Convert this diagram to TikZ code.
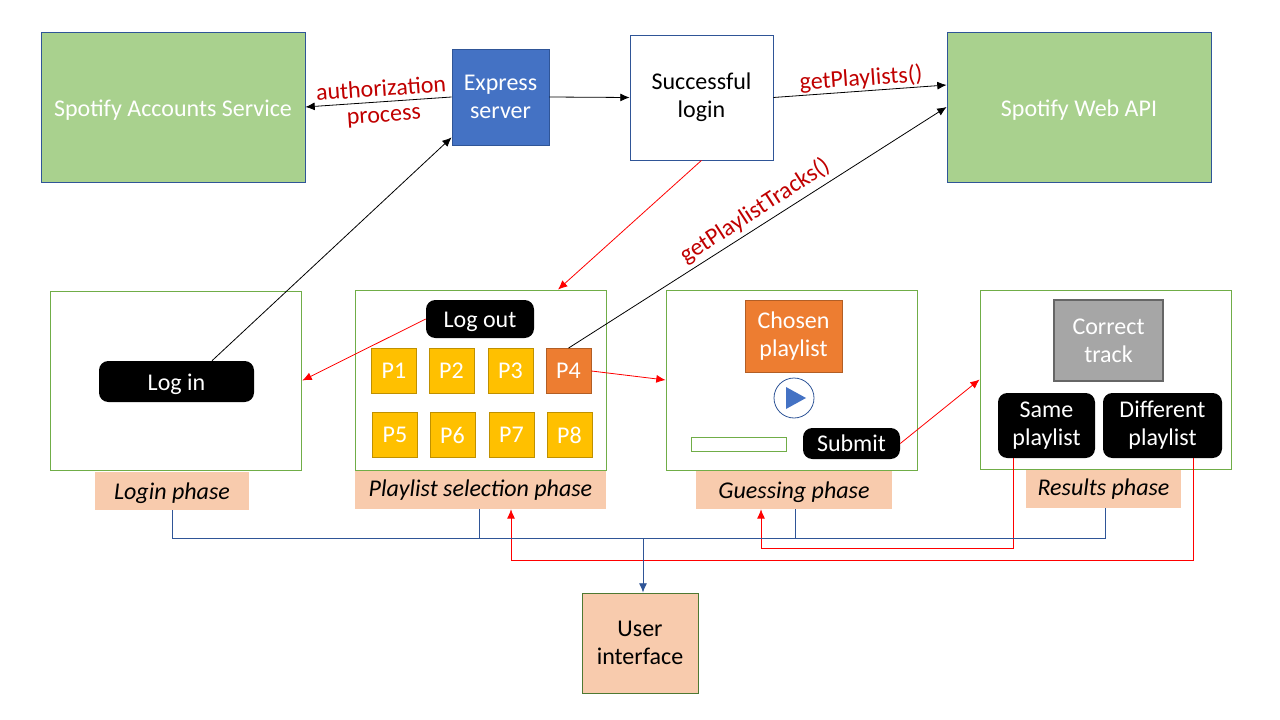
\documentclass[tikz,border=0pt]{standalone}
\usepackage{fontspec}
\setmainfont{Carlito}
\usetikzlibrary{arrows.meta}
\definecolor{leaf}{HTML}{A9D18E}
\definecolor{navy}{HTML}{2F5597}
\definecolor{azure}{HTML}{4472C4}
\definecolor{tangerine}{HTML}{ED7D31}
\definecolor{amber}{HTML}{FFC000}
\definecolor{peach}{HTML}{F8CBAD}
\definecolor{frameline}{HTML}{70AD47}
\definecolor{crimson}{HTML}{C00000}
\def\px{0.75pt}
\tikzset{
	size/.style 2 args={minimum width=#1*\px,minimum height=#2*\px,inner sep=0pt,align=center},
	lower/.style={execute at begin node={\rule{0pt}{16.5pt}}},
	service/.style={draw=navy,fill=leaf,text=white,line width=0.6pt,lower},
	frame/.style={draw=frameline,line width=0.6pt},
	button/.style={fill=black,text=white,rounded corners=7pt},
	playbox/.style={draw=amber!75!black,fill=amber,text=white,line width=0.6pt,size={45}{45}},
	phase/.style={fill=peach,font=\fontsize{18}{21}\selectfont\itshape},
	tag/.style={text=crimson},
	blackarrow/.style={line width=0.6pt,-{Latex[length=7pt,width=6pt]}},
	redarrow/.style={red,line width=0.6pt,-{Latex[length=7pt,width=6pt]}},
	blueline/.style={navy,line width=0.7pt},
}

\begin{document}
\begin{tikzpicture}[x=0.75pt,y=-0.75pt,font=\fontsize{18}{21}\selectfont]
	\useasboundingbox (0,0) rectangle (1280,720);
	% top row
	\node[service,size={264}{150}] (accounts) at (173,107) {Spotify Accounts Service};
	\node[draw=navy,fill=azure,text=white,size={97}{96},line width=0.6pt] (express) at (500.5,97) {Express\\server};
	\node[draw=navy,size={143}{125},line width=0.6pt] (success) at (701.5,97.5) {Successful\\login};
	\node[service,size={264}{150}] (webapi) at (1079,107) {Spotify Web API};
	% phase frames
	\node[frame,size={251}{179}] (loginframe) at (175.5,380.5) {};
	\node[frame,size={251}{180}] (playlistframe) at (480.5,380) {};
	\node[frame,size={251}{180}] (guessframe) at (791.5,380) {};
	\node[frame,size={251}{179}] (resultsframe) at (1105.5,379.5) {};
	% phase names
	\node[phase,lower,size={154}{38}] (loginphase) at (172,491) {Login phase};
	\node[phase,size={251}{38}] (playlistphase) at (480.5,490) {Playlist selection phase};
	\node[phase,lower,size={196}{38}] (guessphase) at (794,490) {Guessing phase};
	\node[phase,size={155}{38}] (resultsphase) at (1103.5,489) {Results phase};
	\node[draw=frameline!70!black,fill=peach,size={116}{100},line width=0.6pt] (ui) at (640,643) {User\\interface};
	% buttons
	\node[button,lower,size={155}{41}] (login) at (176.5,381.5) {Log in};
	\node[button,lower,size={108}{38}] (logout) at (480,319) {Log out};
	\node[button,size={97}{31}] (submit) at (851.5,443.5) {Submit};
	\node[button,size={97}{65}] (same) at (1046.5,425.5) {Same\\playlist};
	\node[button,size={119}{65}] (different) at (1162.5,425.5) {Different\\playlist};
	% playlists
	\node[playbox] (pa) at (394,371) {P1};
	\node[playbox] (pb) at (451.5,371) {P2};
	\node[playbox] (pc) at (510.5,371) {P3};
	\node[playbox,draw=tangerine!75!black,fill=tangerine] (pd) at (568.5,371) {P4};
	\node[playbox] (pe) at (395,435) {P5};
	\node[playbox] (pf) at (452.5,435) {P6};
	\node[playbox] (pg) at (511.5,435) {P7};
	\node[playbox] (ph) at (569.5,435) {P8};
	% guessing phase
	\node[draw=tangerine!75!black,fill=tangerine,text=white,size={97}{72},line width=0.6pt] (chosen) at (793.5,336) {Chosen\\playlist};
	\node[circle,draw=navy,line width=0.6pt,minimum size=40*\px,inner sep=0pt] (play) at (794,398) {};
	\fill[azure] (786,387) -- (806,398) -- (786,409) -- cycle;
	\node[frame,size={95}{14}] (answer) at (738.5,444) {};
	\node[draw=gray!80!black,fill=gray!70,text=white,size={109}{81},line width=1.3pt] (correct) at (1108.5,340.5) {Correct\\track};
	% top connectors
	\draw[blackarrow] (express.west) -- (accounts.east);
	\draw[blackarrow] (express.east) -- (success.west);
	\draw[blackarrow] (success.east) -- ([yshift=22*\px]webapi.west);
	\draw[blackarrow] ([xshift=35.5*\px]login.north) -- ([yshift=8*\px]express.south west);
	\draw[blackarrow] (pd.north) -- (webapi.west);
	\node[tag,rotate=4] (authtag) at (381,88) {authorization};
	\node[tag,rotate=4] (proctag) at (384,118) {process};
	\node[tag,rotate=4] (getlists) at (861,79) {getPlaylists()};
	\node[tag,rotate=33] (gettracks) at (755,211) {getPlaylistTracks()};
	% red connectors
	\draw[redarrow] (success.south) -- ([xshift=77.5*\px]playlistframe.north);
	\draw[redarrow] (logout.west) -- ([xshift=1*\px]loginframe.east);
	\draw[redarrow] (pd.east) -- (guessframe.west);
	\draw[redarrow] (submit.east) -- (resultsframe.west);
	\draw[redarrow] ([xshift=-33.5*\px]same.south) |- (761,548) -- ([xshift=-33*\px]guessphase.south);
	\draw[redarrow] ([xshift=30.5*\px]different.south) |- (511,560) -- ([xshift=30.5*\px]playlistphase.south);
	% blue bus
	\coordinate (busright) at (1105,538);
	\draw[blueline] (loginphase.south) |- (busright) -- ([xshift=1.5*\px]resultsphase.south);
	\draw[blueline] ([xshift=-1.5*\px]playlistphase.south) -- (479,538);
	\draw[blueline] ([xshift=1*\px]guessphase.south) -- (795,538);
	\draw[blueline,-{Latex[length=7pt,width=6pt]}] (643,538) -- ([xshift=3*\px]ui.north);
\end{tikzpicture}
\end{document}
